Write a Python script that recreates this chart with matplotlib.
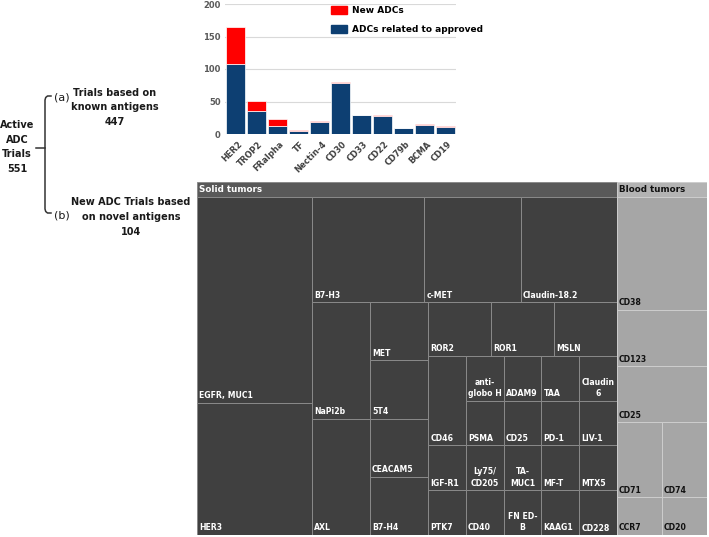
import matplotlib
matplotlib.use("Agg")
import matplotlib.pyplot as plt
from matplotlib.patches import Rectangle, Patch
from matplotlib.transforms import ScaledTranslation

# ---- bar chart data (trials on known antigens) ----
antigens = ["HER2", "TROP2", "FRalpha", "TF", "Nectin-4", "CD30",
            "CD33", "CD22", "CD79b", "BCMA", "CD19"]
approved = [108, 35, 13, 4, 18, 79, 30, 27, 10, 14, 11]
new_adcs = [57, 16, 10, 2, 2, 1, 0, 2, 0, 1, 1]

# ---- treemap data (trials on novel antigens) ----
groups = ["Solid tumors", "Blood tumors"]
solid_labels = ["EGFR, MUC1", "HER3", "B7-H3", "c-MET", "Claudin-18.2",
                "NaPi2b", "AXL", "MET", "5T4", "CEACAM5", "B7-H4",
                "ROR2", "ROR1", "MSLN", "CD46", "IGF-R1", "PTK7",
                "anti-\nglobo H", "ADAM9", "TAA", "Claudin\n6",
                "PSMA", "Ly75/\nCD205", "CD40", "CD25", "PD-1", "LIV-1",
                "TA-\nMUC1", "FN ED-\nB", "MF-T", "MTX5", "KAAG1", "CD228"]
solid_values = [14, 9, 7, 6, 6, 4, 4, 2, 2, 2, 2, 2, 2, 2, 2, 1, 1,
                1, 1, 1, 1, 1, 1, 1, 1, 1, 1, 1, 1, 1, 1, 1, 1]
blood_labels = ["CD38", "CD123", "CD25", "CD71", "CD74", "CCR7", "CD20"]
blood_values = [6, 3, 3, 2, 2, 1, 1]

# how many items go in each strip of the layout (Excel style squarify)
solid_strips = [2, 3, 2, 4, 3, 3, 4, 3, 3, 2, 2, 1, 1]
blood_strips = [1, 1, 1, 2, 1, 1]


def strip_layout(values, x, y, w, h, strips):
    """Squarified layout with given strip sizes; strip along the shorter side."""
    scale = w * h / sum(values)
    rects = []
    i = 0
    for n in strips:
        vals = values[i:i + n]
        area = sum(vals) * scale
        if w >= h:
            cw = area / h
            yy = y
            for v in vals:
                ch = v * scale / cw
                rects.append((x, yy, cw, ch))
                yy += ch
            x += cw
            w -= cw
        else:
            rh = area / w
            xx = x
            for v in vals:
                rw = v * scale / rh
                rects.append((xx, y, rw, rh))
                xx += rw
            y += rh
            h -= rh
        i += n
    return rects


W, H = 709, 537
fig = plt.figure(figsize=(W / 100, H / 100), dpi=100)

# overlay for the left-hand text and bracket
ann = fig.add_axes([0, 0, 1, 1])
ann.set_xlim(0, W)
ann.set_ylim(H, 0)
ann.axis("off")

txt = dict(fontsize=7, fontweight="bold", color="#1a1a1a", ha="center", va="center")
for s, yy in zip(["Active", "ADC", "Trials", "551"], [125, 140, 154, 169]):
    ann.text(17, yy, s, **txt)
for s, yy in zip(["Trials based on", "known antigens", "447"], [93, 107, 122]):
    ann.text(115, yy, s, **txt)
for s, yy in zip(["New ADC Trials based", "on novel antigens", "104"], [202, 217, 232]):
    ann.text(131, yy, s, **txt)
ann.text(54, 97, "(a)", fontsize=8, color="#1a1a1a", va="center", ha="left")
ann.text(54, 215, "(b)", fontsize=8, color="#1a1a1a", va="center", ha="left")
ann.plot([36, 45], [148, 148], color="#333333", lw=1.1)
ann.plot([51, 47.5, 45.7, 45, 45, 45.7, 47.5, 51],
         [96, 96, 97.5, 100, 209, 211.5, 213, 213], color="#333333", lw=1.1)

# ---- stacked bar chart ----
ax = fig.add_axes([225 / W, 1 - 134 / H, 231 / W, 130 / H])
xpos = range(len(antigens))
ax.bar(xpos, approved, width=0.92, color="#0d3f72", edgecolor="white", lw=0.5,
       label="ADCs related to approved", zorder=3)
ax.bar(xpos, new_adcs, bottom=approved, width=0.92, color="#ff0000",
       edgecolor="white", lw=0.5, label="New ADCs", zorder=3)
ax.set_xlim(-0.5, len(antigens) - 0.5)
ax.set_ylim(0, 200)
ax.set_yticks([0, 50, 100, 150, 200])
ax.grid(axis="y", color="#d9d9d9", lw=0.8, zorder=0)
for sp in ax.spines.values():
    sp.set_visible(False)
ax.tick_params(length=0)
ax.tick_params(axis="y", pad=3, labelsize=6, labelcolor="#595959")
ax.set_xticks(list(xpos))
ax.set_xticklabels(antigens, rotation=45, ha="right", va="top",
                   rotation_mode="anchor", fontsize=6, color="#404040")
for lab in ax.get_yticklabels() + ax.get_xticklabels():
    lab.set_fontweight("bold")
off = ScaledTranslation(2 / 100, -1 / 100, fig.dpi_scale_trans)
for lab in ax.get_xticklabels():
    lab.set_transform(lab.get_transform() + off)

handles = [Patch(color="#ff0000", label="New ADCs"),
           Patch(color="#0d3f72", label="ADCs related to approved")]
fig.legend(handles=handles, loc="upper left", bbox_to_anchor=(331 / W, 1 - 6 / H),
           frameon=False, borderpad=0, borderaxespad=0, handlelength=1.8,
           handleheight=1.0, handletextpad=0.5, labelspacing=1.05,
           prop={"size": 6.5, "weight": "bold"})

# ---- treemap ----
tm_w, tm_h, band = 510, 353, 15
tm = fig.add_axes([197 / W, 2 / H, tm_w / W, tm_h / H])
tm.set_xlim(0, tm_w)
tm.set_ylim(tm_h, 0)
tm.axis("off")

parents = strip_layout([sum(solid_values), sum(blood_values)], 0, 0, tm_w, tm_h, [1, 1])
styles = [
    dict(head="#595959", cell="#404040", edge="#8a8a8a", text="white",
         labels=solid_labels, values=solid_values, strips=solid_strips),
    dict(head="#b3b3b3", cell="#a6a6a6", edge="#cdcdcd", text="#111111",
         labels=blood_labels, values=blood_values, strips=blood_strips),
]
for name, (px, py, pw, ph), st in zip(groups, parents, styles):
    tm.add_patch(Rectangle((px, py), pw, band, facecolor=st["head"],
                           edgecolor=st["edge"], lw=0.7))
    tm.text(px + 2, py + band / 2 + 0.5, name, color=st["text"], fontsize=6.3,
            fontweight="bold", ha="left", va="center")
    cells = strip_layout(st["values"], px, py + band, pw, ph - band, st["strips"])
    for lab, (cx, cy, cw, ch) in zip(st["labels"], cells):
        tm.add_patch(Rectangle((cx, cy), cw, ch, facecolor=st["cell"],
                               edgecolor=st["edge"], lw=0.7))
        if "\n" in lab:
            tm.text(cx + cw / 2, cy + ch - 2.5, lab, color=st["text"], fontsize=5.6,
                    fontweight="bold", ha="center", va="bottom",
                    multialignment="center", linespacing=1.35)
        else:
            tm.text(cx + 2, cy + ch - 2.5, lab, color=st["text"], fontsize=5.6,
                    fontweight="bold", ha="left", va="bottom")

fig.savefig("out.png", dpi=100)
